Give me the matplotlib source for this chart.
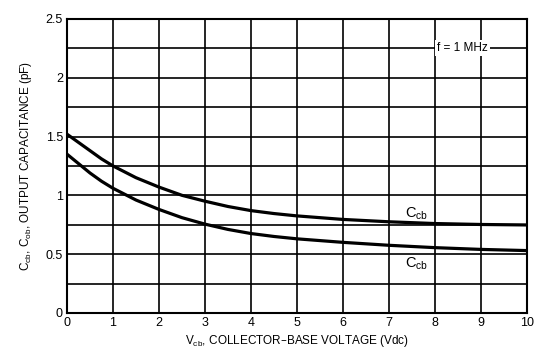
import matplotlib
matplotlib.use("Agg")
import matplotlib.pyplot as plt

plt.rcParams['font.family'] = ['Liberation Sans', 'DejaVu Sans']

# collector-base voltage (Vdc)
vcb = [0, 0.25, 0.5, 0.75, 1, 1.5, 2, 2.5, 3, 3.5, 4, 4.5, 5, 6, 7, 8, 9, 10]
# upper curve (Ccb)
c_upper = [1.52, 1.45, 1.38, 1.31, 1.25, 1.15, 1.07, 1.00, 0.95, 0.905, 0.87, 0.845, 0.825, 0.795, 0.775, 0.76, 0.752, 0.748]
# lower curve (Ccb)
c_lower = [1.35, 1.27, 1.19, 1.12, 1.06, 0.96, 0.88, 0.81, 0.755, 0.71, 0.675, 0.65, 0.63, 0.60, 0.575, 0.555, 0.54, 0.53]

xticks = list(range(0, 11))
yticks = [0, 0.5, 1, 1.5, 2, 2.5]
ytick_labels = ['0', '0.5', '1', '1.5', '2', '2.5']

fig = plt.figure(figsize=(5.36, 3.58), dpi=100)
ax = fig.add_axes([0.125, 0.126, 0.858, 0.821])

ax.plot(vcb, c_upper, color='black', linewidth=2.3, solid_capstyle='butt')
ax.plot(vcb, c_lower, color='black', linewidth=2.3, solid_capstyle='butt')

ax.set_xlim(0, 10)
ax.set_ylim(0, 2.5)
ax.set_xticks(xticks)
ax.set_yticks(yticks)
ax.set_yticklabels(ytick_labels)
ax.set_yticks([i * 0.25 for i in range(11)], minor=True)
ax.grid(True, which='both', color='black', linewidth=1.2)
ax.tick_params(which='both', length=0, labelsize=9, pad=3)
for s in ax.spines.values():
    s.set_linewidth(1.5)

ax.text(8.6, 2.25, 'f = 1 MHz', fontsize=8.5, ha='center', va='center',
        bbox=dict(facecolor='white', edgecolor='none', pad=1.5))
ax.text(7.6, 0.84, 'C$_{\\mathregular{cb}}$', fontsize=10.5, ha='center', va='center')
ax.text(7.6, 0.42, 'C$_{\\mathregular{cb}}$', fontsize=10.5, ha='center', va='center')

ax.set_xlabel('V$_{\\mathregular{cb}}$, COLLECTOR\u2013BASE VOLTAGE (Vdc)', fontsize=8.5, labelpad=3)
ax.set_ylabel('C$_{\\mathregular{cb}}$, C$_{\\mathregular{ob}}$, OUTPUT CAPACITANCE (pF)', fontsize=8.5, labelpad=8)

fig.savefig('out.png', dpi=100)
